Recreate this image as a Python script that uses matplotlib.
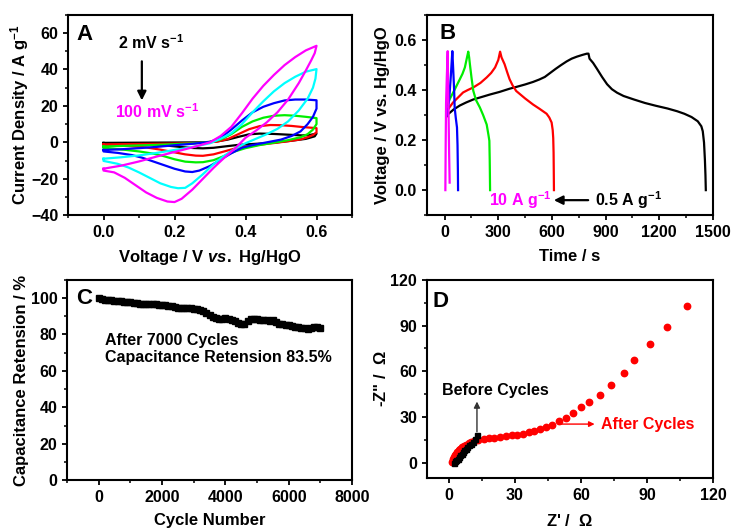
import matplotlib
matplotlib.use('Agg')
import matplotlib.pyplot as plt
from matplotlib.ticker import MultipleLocator

plt.rcParams.update({
    'font.family': ['Liberation Sans', 'DejaVu Sans'],
    'font.weight': 'bold',
    'axes.labelweight': 'bold',
    'font.size': 11.5,
    'axes.labelsize': 12,
    'mathtext.fontset': 'custom',
    'mathtext.rm': 'Liberation Sans:bold',
    'mathtext.bf': 'Liberation Sans:bold',
    'mathtext.it': 'Liberation Sans:italic:bold',
    'mathtext.sf': 'Liberation Sans',
    'mathtext.default': 'bf',
    'axes.linewidth': 1.5,
    'xtick.direction': 'out',
    'ytick.direction': 'out',
    'xtick.major.size': 3.5,
    'ytick.major.size': 3.5,
    'xtick.minor.size': 2,
    'ytick.minor.size': 2,
    'xtick.major.width': 1.3,
    'ytick.major.width': 1.3,
    'xtick.minor.width': 1.1,
    'ytick.minor.width': 1.1,
    'xtick.labelsize': 11.5,
    'ytick.labelsize': 11.5,
})

# ---------------- Panel A: CV curves (V, current density) ----------------
cv_colors = ['black', '#ff0000', '#00ee00', '#0000ff', '#00ffff', '#ff00ff']

cv2_v = [0.00, 0.10, 0.20, 0.28, 0.32, 0.35, 0.38, 0.41, 0.44, 0.48, 0.52, 0.56, 0.58, 0.60,
         0.595, 0.57, 0.53, 0.48, 0.43, 0.38, 0.34, 0.31, 0.28, 0.25, 0.22, 0.18, 0.12, 0.06, 0.00]
cv2_i = [-0.3, -0.2, -0.1, 0.0, 0.5, 1.5, 3.0, 4.4, 4.8, 4.6, 4.2, 3.8, 4.0, 4.8,
         3.3, 1.9, 0.9, -0.2, -0.8, -1.4, -2.3, -3.0, -3.3, -3.1, -2.6, -1.8, -1.1, -0.8, -0.7]

cv5_v = [0.00, 0.10, 0.20, 0.28, 0.32, 0.35, 0.38, 0.41, 0.44, 0.47, 0.50, 0.53, 0.56, 0.60,
         0.60, 0.59, 0.575, 0.555, 0.52, 0.48, 0.44, 0.40, 0.37, 0.34, 0.31, 0.28, 0.26, 0.23,
         0.20, 0.16, 0.12, 0.07, 0.00]
cv5_i = [-1.1, -0.9, -0.7, -0.3, 0.4, 1.8, 4.5, 7.2, 8.9, 9.5, 9.4, 9.0, 8.4, 7.8,
         5.5, 4.0, 2.8, 1.6, 0.6, -0.4, -1.3, -2.3, -3.4, -5.0, -6.6, -7.4, -7.3, -6.6,
         -5.5, -4.0, -2.8, -2.0, -1.7]

cv10_v = [0.00, 0.05, 0.10, 0.15, 0.20, 0.25, 0.30, 0.33, 0.36, 0.39, 0.42, 0.45, 0.48, 0.51,
          0.54, 0.57, 0.60,
          0.60, 0.59, 0.575, 0.555, 0.52, 0.48, 0.44, 0.40, 0.37, 0.34, 0.31, 0.28, 0.26,
          0.23, 0.20, 0.17, 0.14, 0.10, 0.06, 0.03, 0.00]
cv10_i = [-2.3, -2.0, -1.7, -1.4, -1.0, -0.6, 0.2, 1.5, 4.5, 8.5, 11.5, 13.5, 14.6, 14.9,
          14.6, 14.0, 13.3,
          10.0, 7.0, 4.5, 2.8, 1.2, -0.2, -1.5, -3.2, -5.0, -7.5, -9.8, -10.9, -11.0,
          -10.6, -9.3, -7.6, -6.2, -5.0, -4.1, -3.6, -3.3]

cv20_v = [0.00, 0.05, 0.10, 0.15, 0.20, 0.25, 0.30, 0.33, 0.36, 0.39, 0.42, 0.45, 0.48, 0.51,
          0.54, 0.57, 0.60,
          0.60, 0.59, 0.575, 0.555, 0.53, 0.50, 0.46, 0.42, 0.39, 0.36, 0.33, 0.30, 0.27,
          0.25, 0.23, 0.20, 0.17, 0.14, 0.11, 0.08, 0.04, 0.00]
cv20_i = [-4.2, -3.8, -3.2, -2.5, -1.6, -0.8, 0.2, 2.5, 7.0, 12.0, 16.5, 19.5, 21.5, 23.0,
          23.5, 23.5, 23.1,
          18.5, 14.0, 10.0, 6.0, 3.5, 1.5, 0.0, -1.5, -3.0, -6.0, -9.5, -13.0, -15.5,
          -16.3, -16.0, -14.5, -12.5, -10.5, -8.5, -7.0, -5.8, -5.0]

cv50_v = [0.00, 0.05, 0.10, 0.15, 0.20, 0.25, 0.30, 0.33, 0.36, 0.39, 0.42, 0.45, 0.48, 0.51,
          0.54, 0.57, 0.60,
          0.597, 0.59, 0.575, 0.55, 0.52, 0.49, 0.46, 0.43, 0.40, 0.37, 0.34, 0.31, 0.28,
          0.25, 0.23, 0.21, 0.19, 0.16, 0.13, 0.10, 0.07, 0.04, 0.00]
cv50_i = [-9.0, -8.2, -7.2, -5.8, -4.2, -2.6, -0.5, 2.0, 5.0, 10.0, 16.5, 22.5, 28.0, 32.5,
          36.0, 38.8, 40.2,
          35.0, 30.0, 24.0, 17.5, 11.5, 7.4, 4.5, 2.0, -0.5, -3.5, -7.4, -12.0, -17.5,
          -22.5, -25.0, -25.2, -24.5, -22.5, -19.5, -16.5, -13.8, -11.8, -10.2]

cv100_v = [0.00, 0.02, 0.05, 0.10, 0.15, 0.20, 0.25, 0.30, 0.33, 0.36, 0.39, 0.42, 0.45, 0.48,
           0.51, 0.54, 0.57, 0.60,
           0.595, 0.585, 0.57, 0.55, 0.52, 0.49, 0.46, 0.43, 0.40, 0.37, 0.34, 0.31, 0.28,
           0.25, 0.22, 0.20, 0.18, 0.15, 0.12, 0.09, 0.06, 0.03, 0.00]
cv100_i = [-14.5, -13.8, -12.8, -10.5, -7.8, -5.3, -2.8, 0.0, 3.5, 8.5, 16.0, 24.0, 31.0, 37.0,
           42.4, 46.8, 50.5, 53.0,
           49.0, 45.0, 39.5, 32.5, 23.5, 16.5, 11.0, 6.5, 2.5, -3.5, -8.5, -14.0, -20.0,
           -26.0, -31.0, -32.8, -32.5, -30.5, -27.5, -23.5, -19.5, -16.5, -15.5]

# ---------------- Panel B: GCD curves (time, voltage) ----------------
gcd05_t = [12, 19, 50, 85, 120, 160, 212, 254, 306, 363, 400, 450, 494, 530, 560, 590, 620,
           650, 682, 710, 739, 770, 795, 804, 810, 830, 851, 880, 908, 935, 964, 1000, 1058,
           1120, 1180, 1246, 1300, 1340, 1380, 1415, 1435, 1443, 1450, 1455, 1458, 1460]
gcd05_v = [0.295, 0.303, 0.322, 0.338, 0.350, 0.362, 0.373, 0.382, 0.392, 0.405, 0.412, 0.422,
           0.432, 0.442, 0.452, 0.468, 0.484, 0.499, 0.514, 0.525, 0.533, 0.540, 0.545, 0.545,
           0.525, 0.508, 0.485, 0.452, 0.423, 0.403, 0.389, 0.376, 0.362, 0.348, 0.337, 0.326,
           0.315, 0.305, 0.292, 0.275, 0.255, 0.235, 0.19, 0.12, 0.06, 0.0]

gcd1_t = [10, 19, 47, 75, 103, 130, 160, 200, 235, 260, 282, 300, 310, 318, 335, 350, 363,
          380, 400, 450, 494, 530, 570, 585, 598, 604, 607, 609, 610, 611]
gcd1_v = [0.315, 0.323, 0.35, 0.37, 0.39, 0.40, 0.41, 0.428, 0.45, 0.468, 0.49, 0.52, 0.553,
          0.53, 0.503, 0.47, 0.443, 0.418, 0.396, 0.366, 0.342, 0.325, 0.305, 0.29, 0.27, 0.24,
          0.208, 0.15, 0.08, 0.0]

gcd2_t = [15, 28, 55, 85, 100, 113, 125, 132, 137, 141, 150, 160, 175, 197, 215, 235, 245,
          250, 252, 254]
gcd2_v = [0.34, 0.363, 0.40, 0.443, 0.465, 0.49, 0.53, 0.553, 0.53, 0.504, 0.45, 0.397, 0.36,
          0.33, 0.30, 0.262, 0.22, 0.197, 0.12, 0.0]

gcd5_t = [12, 19, 27, 35, 40, 43, 48, 53, 56, 62, 69, 72, 74, 75]
gcd5_v = [0.30, 0.317, 0.38, 0.46, 0.52, 0.555, 0.48, 0.40, 0.33, 0.29, 0.25, 0.18, 0.08, 0.0]

gcd10_t = [4, 6, 8, 12, 17, 19, 22, 25, 28]
gcd10_v = [0.0, 0.2, 0.35, 0.45, 0.555, 0.45, 0.30, 0.15, 0.03]

# ---------------- Panel C: cycling retention ----------------
cycle_n = list(range(0, 7001, 100))
retention = [100.0, 99.6, 99.2, 99.0, 98.8, 98.6, 98.4, 98.2, 98.0, 97.8, 97.6, 97.4, 97.2,
             97.0, 96.9, 96.8, 96.7, 96.6, 96.5, 96.4, 96.3, 96.2, 95.9, 95.6, 95.0, 94.6,
             94.5, 94.4, 94.4, 94.3, 94.2, 94.0, 93.5, 92.8, 92.0, 90.8, 89.6, 88.8, 88.6,
             88.7, 88.8, 88.5, 88.0, 87.2, 86.5, 85.8, 85.9, 87.6, 88.4, 88.5, 88.3, 88.0,
             88.2, 87.9, 87.6, 88.0, 86.8, 86.0, 85.6, 85.3, 85.0, 84.7, 84.3, 84.1, 83.8,
             83.5, 83.2, 83.6, 84.2, 84.0, 83.5]

# ---------------- Panel D: Nyquist ----------------
before_zr = [2.5, 3.0, 3.5, 4.0, 4.6, 5.2, 5.8, 6.4, 7.0, 7.7, 8.4, 9.2, 10.0, 10.9, 11.8, 12.8]
before_zi = [0.2, 0.9, 1.8, 2.7, 3.7, 4.8, 5.9, 7.0, 8.1, 9.2, 10.3, 11.4, 12.5, 13.6, 15.5, 18.0]

after_zr = [1.5, 1.8, 2.1, 2.5, 2.9, 3.4, 3.9, 4.5, 5.2, 6.0, 6.9, 7.9, 9.0, 10.2, 11.5,
            13.5, 15.8, 18.2, 20.6, 23.4, 25.8, 28.5, 30.9, 33.5, 36.3, 38.9, 41.5, 44.3,
            47.1, 50.2, 53.1, 56.6, 60.0, 63.5, 68.5, 73.8, 79.4, 84.3, 91.2, 98.9, 108.0]
after_zi = [0.3, 1.5, 2.7, 3.9, 5.0, 6.1, 7.1, 8.1, 9.1, 10.1, 11.1, 12.0, 12.9, 13.7, 14.3,
            14.8, 15.4, 16.1, 16.5, 17.0, 17.4, 18.0, 18.5, 19.1, 20.2, 21.1, 22.4, 23.7,
            25.0, 27.2, 29.6, 32.4, 36.3, 40.2, 44.3, 50.9, 58.7, 67.2, 77.6, 88.9, 102.6]

# ---------------- Figure ----------------
fig = plt.figure(figsize=(7.32, 5.30), dpi=100)
axA = fig.add_axes([0.0929, 0.594, 0.388, 0.378])
axB = fig.add_axes([0.583, 0.594, 0.391, 0.378])
axC = fig.add_axes([0.0915, 0.094, 0.3895, 0.378])
axD = fig.add_axes([0.583, 0.098, 0.391, 0.374])

for ax in (axA, axB, axC, axD):
    ax.tick_params(which='both', top=False, right=False)


def place_labels(ax, xl_y, yl_x):
    ax.xaxis.label.set_va('center')
    ax.yaxis.label.set_va('center')
    ax.xaxis.set_label_coords(0.5, xl_y)
    ax.yaxis.set_label_coords(yl_x, 0.5)


# A
cv_sets = [(cv2_v, cv2_i), (cv5_v, cv5_i), (cv10_v, cv10_i), (cv20_v, cv20_i),
           (cv50_v, cv50_i), (cv100_v, cv100_i)]
for (v, i), c in zip(cv_sets, cv_colors):
    axA.plot(v + [v[0]], i + [i[0]], color=c, lw=1.6, solid_joinstyle='round')
axA.set_xlim(-0.1, 0.7)
axA.set_ylim(-40, 70)
axA.xaxis.set_major_locator(MultipleLocator(0.2))
axA.xaxis.set_minor_locator(MultipleLocator(0.1))
axA.yaxis.set_major_locator(MultipleLocator(20))
axA.yaxis.set_minor_locator(MultipleLocator(10))
axA.xaxis.set_major_formatter(plt.FuncFormatter(lambda x, p: f'{x:.1f}'))
axA.set_xlabel(r'Voltage / V $\it{vs.}$ Hg/HgO')
axA.set_ylabel(r'Current Density / A g$^{-1}$')
place_labels(axA, -0.21, -0.169)
axA.text(-0.075, 59, 'A', fontsize=16, ha='left', va='center')
axA.text(0.134, 54.5, r'2 mV s$^{-1}$', ha='center', va='center', color='black')
axA.text(0.15, 16.7, r'100 mV s$^{-1}$', ha='center', va='center', color='#ff00ff')
axA.annotate('', xy=(0.108, 21.5), xytext=(0.108, 46),
             arrowprops=dict(arrowstyle='-|>', color='black', lw=1.6, mutation_scale=13))

# B
gcd_sets = [(gcd05_t, gcd05_v), (gcd1_t, gcd1_v), (gcd2_t, gcd2_v), (gcd5_t, gcd5_v),
            (gcd10_t, gcd10_v)]
for (t, v), c in zip(gcd_sets, cv_colors[:4] + ['#ff00ff']):
    axB.plot(t, v, color=c, lw=1.6)
axB.set_xlim(-100, 1500)
axB.set_ylim(-0.1, 0.7)
axB.xaxis.set_major_locator(MultipleLocator(300))
axB.xaxis.set_minor_locator(MultipleLocator(150))
axB.yaxis.set_major_locator(MultipleLocator(0.2))
axB.yaxis.set_minor_locator(MultipleLocator(0.1))
axB.yaxis.set_major_formatter(plt.FuncFormatter(lambda x, p: f'{x:.1f}'))
axB.set_xlabel('Time / s')
axB.set_ylabel('Voltage / V vs. Hg/HgO')
place_labels(axB, -0.205, -0.154)
axB.text(-28, 0.625, 'B', fontsize=16, ha='left', va='center')
axB.text(250, -0.04, r'10 A g$^{-1}$', ha='left', va='center', color='#ff00ff')
axB.text(842, -0.04, r'0.5 A g$^{-1}$', ha='left', va='center', color='black')
axB.annotate('', xy=(595, -0.04), xytext=(818, -0.04),
             arrowprops=dict(arrowstyle='-|>', color='black', lw=1.6, mutation_scale=13))

# C
axC.plot(cycle_n, retention, color='black', lw=0, marker='s', ms=4.2)
axC.set_xlim(-1000, 8000)
axC.set_ylim(0, 110)
axC.xaxis.set_major_locator(MultipleLocator(2000))
axC.xaxis.set_minor_locator(MultipleLocator(1000))
axC.yaxis.set_major_locator(MultipleLocator(20))
axC.yaxis.set_minor_locator(MultipleLocator(10))
axC.set_xlabel('Cycle Number')
axC.set_ylabel('Capacitance Retension / %')
place_labels(axC, -0.2, -0.158)
axC.text(-700, 100, 'C', fontsize=16, ha='left', va='center')
axC.text(190, 76.5, 'After 7000 Cycles', ha='left', va='center')
axC.text(190, 67.5, 'Capacitance Retension 83.5%', ha='left', va='center')

# D
axD.plot(after_zr, after_zi, color='#ff0000', lw=0, marker='o', ms=4.6)
axD.plot(before_zr, before_zi, color='black', lw=0, marker='s', ms=3.6)
axD.set_xlim(-10, 120)
axD.set_ylim(-10, 120)
axD.xaxis.set_major_locator(MultipleLocator(30))
axD.xaxis.set_minor_locator(MultipleLocator(15))
axD.yaxis.set_major_locator(MultipleLocator(30))
axD.yaxis.set_minor_locator(MultipleLocator(15))
axD.set_xlabel(r"Z' /  $\mathsf{Ω}$")
axD.set_ylabel(r'-Z" /  $\mathsf{Ω}$')
place_labels(axD, -0.215, -0.161)
axD.text(-7.5, 106, 'D', fontsize=16, ha='left', va='center')
axD.annotate('', xy=(12.8, 42), xytext=(12.8, 18.5),
             arrowprops=dict(arrowstyle='-|>', color='#333333', lw=1.0, mutation_scale=9))
axD.text(21, 47.5, 'Before Cycles', ha='center', va='center', color='black')
axD.annotate('', xy=(67.5, 25.4), xytext=(49.5, 25.4),
             arrowprops=dict(arrowstyle='-|>', color='#ff0000', lw=1.0, mutation_scale=8))
axD.text(69, 25.4, 'After Cycles', ha='left', va='center', color='#ff0000')

fig.savefig('out.png', dpi=100)
